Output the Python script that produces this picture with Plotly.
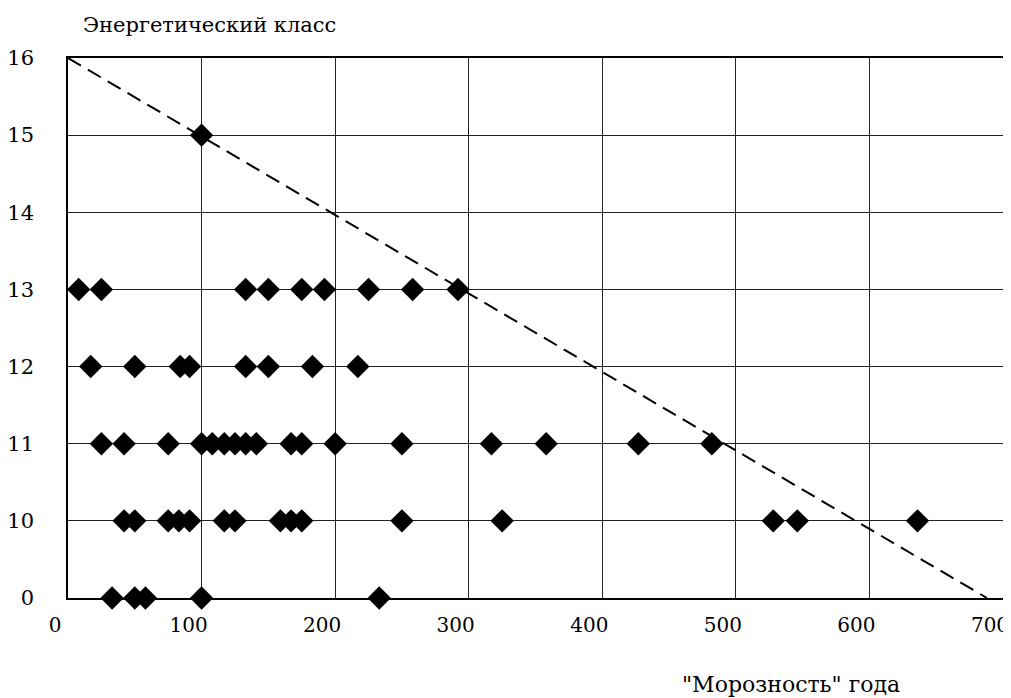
import plotly.graph_objects as go

# Category labels of the vertical axis (evenly spaced classes)
class_labels = ["0", "10", "11", "12", "13", "14", "15", "16"]

# "Морозность" values of the points, per energy class
class_15 = [100]
class_13 = [8, 25, 133, 150, 175, 192, 225, 258, 292]
class_12 = [17, 50, 84, 91, 133, 150, 183, 217]
class_11 = [25, 42, 75, 100, 108, 117, 125, 133, 141, 167, 175, 200, 250,
            317, 358, 427, 482]
class_10 = [42, 50, 75, 83, 91, 117, 125, 159, 167, 175, 250, 325, 528, 546, 636]
class_0 = [33, 50, 58, 100, 233]

# Dashed boundary line (x values and class labels at its ends)
line_x = [0, 688]
line_class = ["16", "0"]

x_ticks = [0, 100, 200, 300, 400, 500, 600, 700]

groups = [("15", class_15), ("13", class_13), ("12", class_12),
          ("11", class_11), ("10", class_10), ("0", class_0)]

xs, ys = [], []
for lab, vals in groups:
    for v in vals:
        xs.append(v)
        ys.append(class_labels.index(lab))

fig = go.Figure()
fig.add_trace(go.Scatter(
    x=line_x, y=[class_labels.index(c) for c in line_class],
    mode="lines", line=dict(color="black", width=2, dash="15px,8px"),
    hoverinfo="skip", showlegend=False, cliponaxis=False))
fig.add_trace(go.Scatter(
    x=xs, y=ys, mode="markers",
    marker=dict(symbol="diamond", size=18, color="black", line=dict(width=0)),
    showlegend=False, cliponaxis=False))

font_family = "DejaVu Serif"
fig.update_layout(
    width=1003, height=690,
    margin=dict(l=60, r=8, t=50, b=100, autoexpand=False),
    paper_bgcolor="white", plot_bgcolor="white",
    font=dict(family=font_family, size=20, color="black"),
    xaxis=dict(range=[0, 700], tickvals=x_ticks, ticktext=[str(t) for t in x_ticks],
               showgrid=True, gridcolor="#222", gridwidth=1, automargin=False,
               showline=True, linecolor="black", linewidth=1.5, mirror=True,
               zeroline=False, ticks="", ticklabelshift=-13, ticklabelstandoff=8,
               ticklabeloverflow="allow",
               tickfont=dict(family=font_family, size=20)),
    yaxis=dict(range=[0, len(class_labels) - 1],
               tickvals=list(range(len(class_labels))), ticktext=class_labels,
               showgrid=True, gridcolor="#222", gridwidth=1, automargin=False,
               showline=True, linecolor="black", linewidth=1.5, mirror=True,
               zeroline=False, ticks="", ticklabelstandoff=28,
               tickfont=dict(family=font_family, size=21)),
    annotations=[
        dict(text="Энергетический класс", xref="paper", yref="paper",
             x=0.0139, y=1.061, xanchor="left", yanchor="middle",
             showarrow=False, font=dict(family=font_family, size=21)),
        dict(text="\"Морозность\" года", xref="paper", yref="paper",
             x=0.773, y=-0.161, xanchor="center", yanchor="middle",
             showarrow=False, font=dict(family=font_family, size=22)),
    ],
)

fig.write_html("out.html")
